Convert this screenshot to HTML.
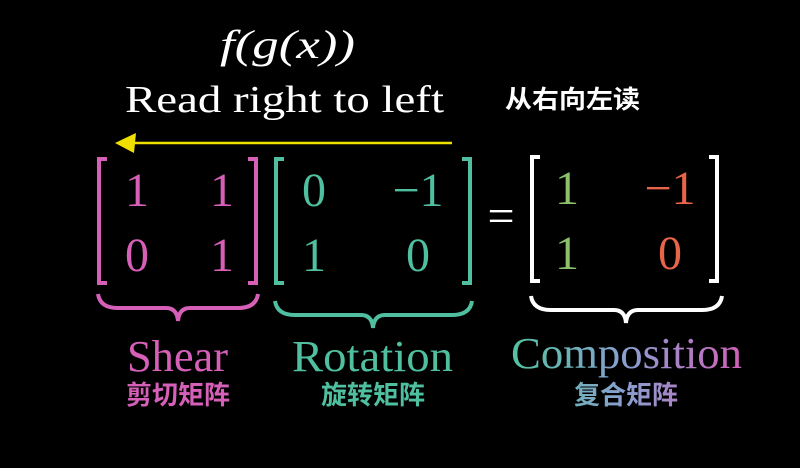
<!DOCTYPE html>
<html><head><meta charset="utf-8"><style>
html,body{margin:0;padding:0;background:#000;}
svg{display:block}
</style></head><body>
<svg width="800" height="468" viewBox="0 0 800 468" xmlns="http://www.w3.org/2000/svg">
<defs>
<linearGradient id="cg" x1="510" y1="0" x2="742" y2="0" gradientUnits="userSpaceOnUse">
<stop offset="0" stop-color="#52c3a0"/><stop offset="0.5" stop-color="#8a9fd0"/><stop offset="1" stop-color="#d060b8"/>
</linearGradient>
</defs>
<rect width="800" height="468" fill="#000"/>
<g font-family="Liberation Serif, serif" fill="#fff">
<text x="220" y="58" font-size="40" font-style="italic" textLength="135" lengthAdjust="spacingAndGlyphs">f(g(x))</text>
<text x="125" y="112" font-size="38" textLength="319" lengthAdjust="spacingAndGlyphs">Read right to left</text>
</g>
<text x="505" y="108" font-family="Liberation Sans, Noto Sans CJK SC, sans-serif" font-weight="bold" font-size="25" fill="#fff" textLength="135" lengthAdjust="spacingAndGlyphs">从右向左读</text>
<line x1="130" y1="143" x2="452" y2="143" stroke="#f0e000" stroke-width="2.5"/>
<polygon points="115,143 136,133 134,153" fill="#f0e000"/>
<g fill="none" stroke-width="4">
<path d="M107,159 H99 V283 H107" stroke="#d65fb8"/>
<path d="M248,159 H256 V283 H248" stroke="#d65fb8"/>
<path d="M284,159 H276 V283 H284" stroke="#4fbfa0"/>
<path d="M462,159 H470 V283 H462" stroke="#4fbfa0"/>
<path d="M540,157 H532 V281 H540" stroke="#fff"/>
<path d="M709,157 H717 V281 H709" stroke="#fff"/>
<path d="M98,294 Q100,308 118,308 L166,308 Q177,308 178,321 Q179,308 190,308 L238,308 Q256,308 258,294" stroke="#d65fb8"/>
<path d="M275,301 Q277,315 295,315 L361,315 Q372,315 373,328 Q374,315 385,315 L452,315 Q470,315 472,301" stroke="#4fbfa0"/>
<path d="M531,296 Q533,310 551,310 L614,310 Q625,310 626,323 Q627,310 638,310 L702,310 Q720,310 722,296" stroke="#fff"/>
</g>
<g font-family="Liberation Serif, serif" font-size="48">
<g fill="#d65fb8" text-anchor="middle">
<text x="137" y="206">1</text><text x="222" y="206">1</text>
<text x="137" y="271">0</text><text x="222" y="271">1</text>
</g>
<g fill="#4fbfa0" text-anchor="middle">
<text x="314" y="206">0</text><text x="418" y="206">−1</text>
<text x="314" y="271">1</text><text x="418" y="271">0</text>
</g>
<text x="501" y="232" fill="#fff" text-anchor="middle">=</text>
<text x="567" y="204" fill="#8cc06a" text-anchor="middle">1</text>
<text x="567" y="269" fill="#8cc06a" text-anchor="middle">1</text>
<text x="670" y="204" fill="#e8654a" text-anchor="middle">−1</text>
<text x="670" y="269" fill="#e8654a" text-anchor="middle">0</text>
</g>
<g font-family="Liberation Serif, serif" font-size="44">
<text x="127" y="371" fill="#d65fb8" textLength="101" lengthAdjust="spacingAndGlyphs">Shear</text>
<text x="292" y="371" fill="#4fbfa0" textLength="161" lengthAdjust="spacingAndGlyphs">Rotation</text>
<text x="511" y="368" fill="url(#cg)" textLength="231" lengthAdjust="spacingAndGlyphs">Composition</text>
</g>
<g font-family="Liberation Sans, Noto Sans CJK SC, sans-serif" font-weight="bold" font-size="26" text-anchor="middle">
<text x="178" y="404" fill="#d65fb8">剪切矩阵</text>
<text x="373" y="404" fill="#4fbfa0">旋转矩阵</text>
<text x="626" y="404" fill="url(#cg)">复合矩阵</text>
</g>
</svg>
</body></html>
